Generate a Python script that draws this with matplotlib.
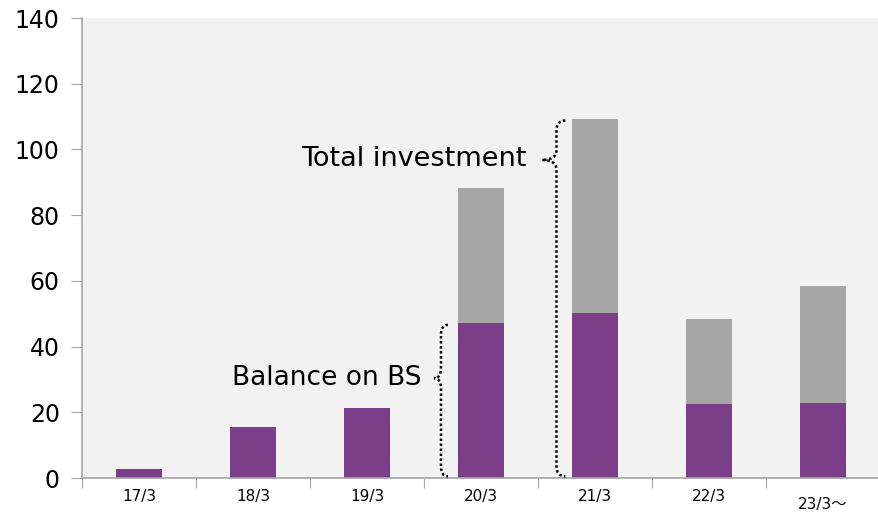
import matplotlib.pyplot as plt
import numpy as np
from matplotlib.path import Path
from matplotlib.patches import PathPatch

# data
labels = ['17/3', '18/3', '19/3', '20/3', '21/3', '22/3', '23/3～']
balance = [2.6, 15.4, 21.4, 47.2, 50.2, 22.4, 22.7]
total = [2.6, 15.4, 21.4, 88.2, 109.2, 48.5, 58.4]

purple = '#7b3f8a'
grey = '#a6a6a6'
axcol = '#a6a6a6'

plt.rcParams['font.family'] = ['DejaVu Sans', 'Noto Sans CJK JP']

fig = plt.figure(figsize=(8.79, 5.12), dpi=100)
ax = fig.add_axes([82 / 879, 1 - 478 / 512, 798 / 879, 460 / 512])
ax.set_facecolor('#f2f2f2')

x = np.arange(len(labels))
upper = [t - b for t, b in zip(total, balance)]
ax.bar(x, balance, width=0.4, color=purple, zorder=2)
ax.bar(x, upper, bottom=balance, width=0.4, color=grey, zorder=2)

ax.set_xlim(-0.5, len(labels) - 0.5)
ax.set_ylim(0, 140)
ax.set_yticks(range(0, 141, 20))
ax.tick_params(axis='y', labelsize=17, length=8, color=axcol, pad=8)

# category labels centred, ticks between categories
ax.set_xticks(np.arange(-0.5, len(labels), 1.0))
ax.set_xticklabels([])
ax.tick_params(axis='x', length=7, color=axcol)
for i, lab in enumerate(labels):
    dy = -0.058 if i == len(labels) - 1 else -0.041
    ax.text(i, dy, lab, transform=ax.get_xaxis_transform(),
            ha='center', va='center', fontsize=11)

for s in ['top', 'right']:
    ax.spines[s].set_visible(False)
for s in ['left', 'bottom']:
    ax.spines[s].set_color(axcol)
    ax.spines[s].set_linewidth(1.2)


def brace(ax, xl, xe, xt, y0, y1, yt, r=3.0, r2=3.0):
    verts = [(xe, y1), (xl, y1), (xl, y1 - r),
             (xl, yt + r2), (xl, yt), (xt, yt),
             (xl, yt), (xl, yt - r2),
             (xl, y0 + r), (xl, y0), (xe, y0)]
    codes = [Path.MOVETO, Path.CURVE3, Path.CURVE3,
             Path.LINETO, Path.CURVE3, Path.CURVE3,
             Path.CURVE3, Path.CURVE3,
             Path.LINETO, Path.CURVE3, Path.CURVE3]
    p = PathPatch(Path(verts, codes), fill=False, edgecolor='black',
                  linestyle=(0, (1, 1.0)), linewidth=1.8, zorder=3)
    ax.add_patch(p)


brace(ax, 2.649, 2.71, 2.588, 0.5, 46.6, 30.4)
brace(ax, 3.662, 3.74, 3.535, 0.5, 108.8, 96.8)

ax.text(2.48, 30.4, 'Balance on BS', ha='right', va='center', fontsize=19)
ax.text(3.40, 97.0, 'Total investment', ha='right', va='center', fontsize=19.5)

fig.savefig('out.png', dpi=100)
